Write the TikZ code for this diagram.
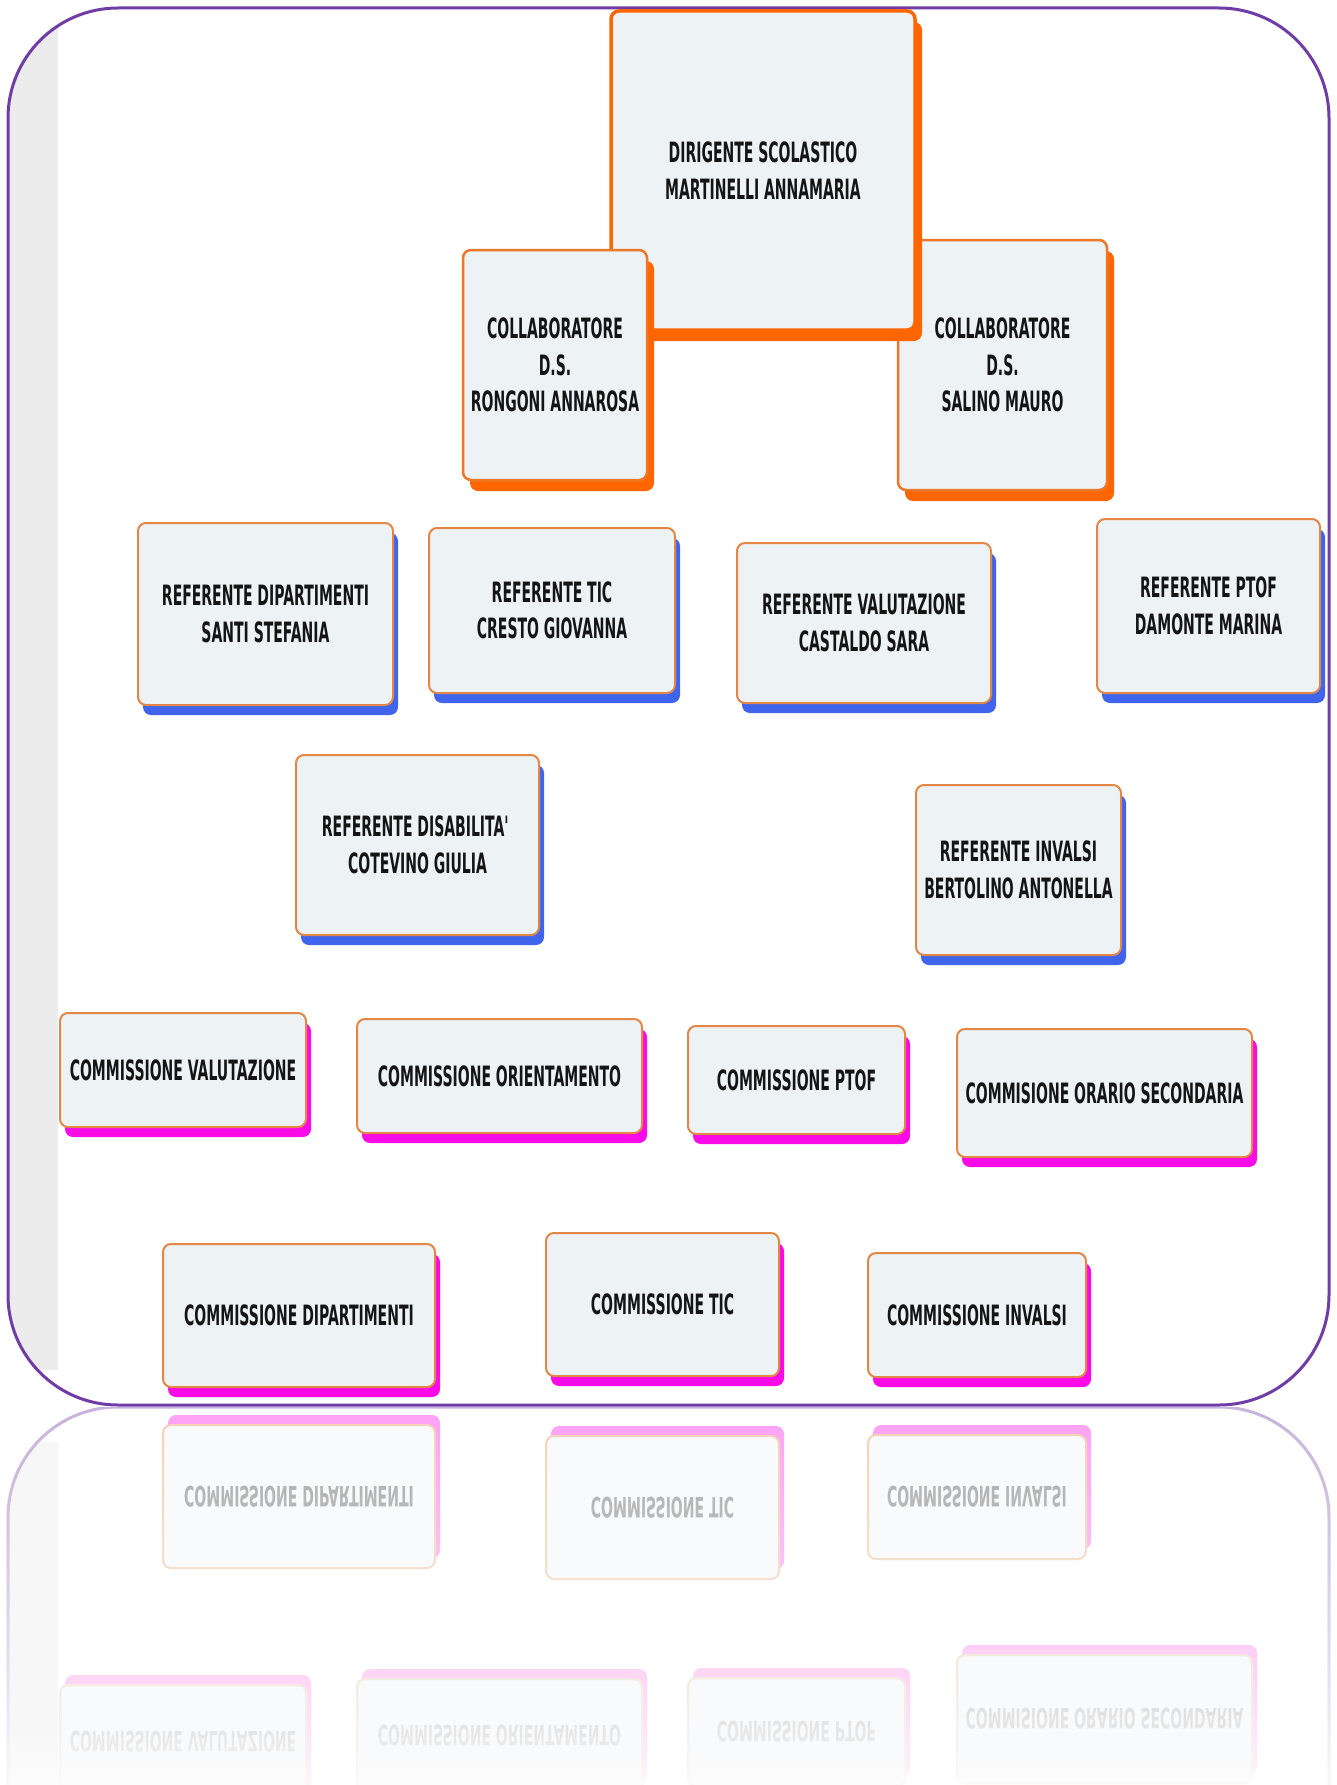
\documentclass[tikz,border=0pt]{standalone}
\usepackage{fontspec}
\newfontfamily\boxfont[FakeStretch=0.5]{DejaVu Sans Bold}
\newcommand{\bx}{\boxfont\fontsize{28pt}{36.5pt}\selectfont}
\definecolor{myorange}{RGB}{255,102,0}
\definecolor{myblue}{RGB}{64,100,235}
\definecolor{mymag}{RGB}{250,10,230}
\definecolor{myborder}{RGB}{226,135,70}
\definecolor{myfill}{RGB}{237,242,245}
\definecolor{myframe}{RGB}{112,60,165}
\definecolor{stripgray}{RGB}{236,236,236}
\tikzset{
  boxsty/.style={rectangle, draw=myborder, line width=2pt, fill=myfill,
    rounded corners=8pt, align=center, inner sep=0pt, font=\bx, text={rgb,255:red,20;green,20;blue,20}},
  topsty/.style={boxsty, draw=myorange, line width=3.5pt},
  orsty/.style={boxsty, draw={rgb,255:red,235;green,120;blue,40}, line width=2.5pt},
  orshadow/.style={fill=myorange, rounded corners=8pt, shift={(7,11)}},
  blshadow/.style={fill=myblue, rounded corners=8pt, shift={(5,10)}},
  mgshadow/.style={fill=mymag, rounded corners=8pt, shift={(5,10)}},
  framesty/.style={draw=myframe, line width=3pt, rounded corners=110pt},
}
% name, cx, cy, w, h, shadow style, node style, text
\newcommand{\ubox}[8]{%
  \fill[#6] ({#2-#4/2},{#3-#5/2}) rectangle ({#2+#4/2},{#3+#5/2});
  \node[#7, minimum width=#4pt, minimum height=#5pt] (#1) at (#2,#3) {#8};}
\newcommand{\framestuff}{%
  \begin{scope}
    \clip[rounded corners=110pt] (8,8) rectangle (1329,1405);
    \fill[stripgray] (8,8) rectangle (58,1370);
  \end{scope}
  \draw[framesty] (8,8) rectangle (1329,1405);}
\newcommand{\rowfour}[1]{%
  \ubox{#1cval}{183}{1070}{246}{114}{mgshadow}{boxsty}{COMMISSIONE VALUTAZIONE}
  \ubox{#1cori}{499.5}{1076}{285}{114}{mgshadow}{boxsty}{COMMISSIONE ORIENTAMENTO}
  \ubox{#1cptof}{796.5}{1080}{217}{108}{mgshadow}{boxsty}{COMMISSIONE PTOF}
  \ubox{#1cora}{1104.5}{1093}{295}{128}{mgshadow}{boxsty}{COMMISIONE ORARIO SECONDARIA}}
\newcommand{\rowfive}[1]{%
  \ubox{#1cdip}{299}{1315.5}{272}{143}{mgshadow}{boxsty}{COMMISSIONE DIPARTIMENTI}
  \ubox{#1ctic}{662.5}{1304.5}{233}{143}{mgshadow}{boxsty}{COMMISSIONE TIC}
  \ubox{#1cinv}{977}{1315}{218}{124}{mgshadow}{boxsty}{COMMISSIONE INVALSI}}
\begin{document}
\begin{tikzpicture}[x=1pt,y=-1pt]
\useasboundingbox (0,0) rectangle (1337,1785);
\fill[white] (0,0) rectangle (1337,1785);
\framestuff
% orange group
\ubox{salino}{1002.5}{365}{209}{250}{orshadow}{orsty}{COLLABORATORE\\D.S.\\SALINO MAURO}
\ubox{dirigente}{763}{170.5}{304}{319}{orshadow}{topsty}{DIRIGENTE SCOLASTICO\\MARTINELLI ANNAMARIA}
\ubox{rongoni}{555}{365}{184}{230}{orshadow}{orsty}{COLLABORATORE\\D.S.\\RONGONI ANNAROSA}
% referenti
\ubox{refdip}{265.5}{614}{255}{182}{blshadow}{boxsty}{REFERENTE DIPARTIMENTI\\SANTI STEFANIA}
\ubox{reftic}{552}{610.5}{246}{165}{blshadow}{boxsty}{REFERENTE TIC\\CRESTO GIOVANNA}
\ubox{refval}{864}{623}{254}{160}{blshadow}{boxsty}{REFERENTE VALUTAZIONE\\CASTALDO SARA}
\ubox{refptof}{1208.5}{606}{223}{174}{blshadow}{boxsty}{REFERENTE PTOF\\DAMONTE MARINA}
\ubox{refdis}{417.5}{845}{243}{180}{blshadow}{boxsty}{REFERENTE DISABILITA\textquotesingle\\COTEVINO GIULIA}
\ubox{refinv}{1018.5}{870}{205}{170}{blshadow}{boxsty}{REFERENTE INVALSI\\BERTOLINO ANTONELLA}
% commissioni
\rowfour{}
\rowfive{}
% reflection
\begin{scope}
  \clip (0,1407) rectangle (1337,1785);
  \begin{scope}[yshift=-2812pt, yscale=-1, transform shape]
    \framestuff
    \rowfive{r}
    \rowfour{r}
  \end{scope}
\end{scope}
\fill[white, opacity=0.62] (0,1407) rectangle (1337,1785);
\foreach \i in {1,...,37} {
  \pgfmathsetmacro{\op}{0.0095/(0.38-0.0095*(\i-1))}
  \fill[white, opacity=\op] (0,{1407+10*\i}) rectangle (1337,1785);
}
\end{tikzpicture}
\end{document}
